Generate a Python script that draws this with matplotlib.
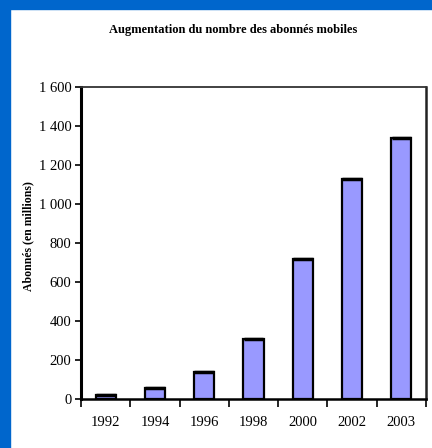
import matplotlib
matplotlib.use('Agg')
from matplotlib import pyplot as plt
from matplotlib.patches import Rectangle
import numpy as np

annees = ['1992', '1994', '1996', '1998', '2000', '2002', '2003']
abonnes = [23, 55, 140, 310, 720, 1130, 1340]
graduations = [0, 200, 400, 600, 800, 1000, 1200, 1400, 1600]

plt.rcParams['font.family'] = ['Liberation Serif', 'DejaVu Serif']

fig = plt.figure(figsize=(4.32, 4.48), dpi=100)
fig.patch.set_facecolor('white')

# cadre bleu en haut et a gauche
fig.patches.append(Rectangle((0, 1 - 9 / 448), 1, 9 / 448, transform=fig.transFigure,
                             color='#0066cc', zorder=0))
fig.patches.append(Rectangle((0, 0), 10 / 432, 1, transform=fig.transFigure,
                             color='#0066cc', zorder=0))

ax = fig.add_axes([81 / 432, 1 - 399 / 448, 345 / 432, 312 / 448])
x = np.arange(len(annees))
ax.bar(x, abonnes, width=0.41, color='#9999ff', edgecolor='black', linewidth=1.6, zorder=3)
# rebord sombre au sommet des barres
ax.hlines(abonnes, x - 0.2, x + 0.2, color='black', linewidth=2.5, zorder=4)

ax.set_xlim(-0.5, len(annees) - 0.5)
ax.set_ylim(0, 1600)
ax.set_yticks(graduations)
ax.set_yticklabels([f'{v:,}'.replace(',', ' ') for v in graduations], fontsize=10.5)

ax.set_xticks(np.arange(len(annees) + 1) - 0.5)
ax.set_xticklabels([])
ax.set_xticks(x, minor=True)
ax.set_xticklabels(annees, minor=True, fontsize=10.5)
ax.tick_params(axis='x', which='major', direction='out', length=6, width=1.2)
ax.tick_params(axis='x', which='minor', length=0, pad=12)
ax.tick_params(axis='y', direction='out', length=4, width=1.2, pad=3)

ax.spines['left'].set_linewidth(2.2)
ax.spines['bottom'].set_linewidth(1.8)
ax.spines['top'].set_linewidth(1.3)
ax.spines['top'].set_color('#333333')
ax.spines['right'].set_linewidth(1.8)
ax.spines['right'].set_color('#222222')

fig.text(233 / 432, 1 - 30 / 448, 'Augmentation du nombre des abonnés mobiles',
         ha='center', va='center', fontsize=9, fontweight='bold')
fig.text(28 / 432, 1 - 236 / 448, 'Abonnés (en millions)', rotation=90,
         ha='center', va='center', fontsize=8.5, fontweight='bold')

plt.savefig('out.png', dpi=100)
